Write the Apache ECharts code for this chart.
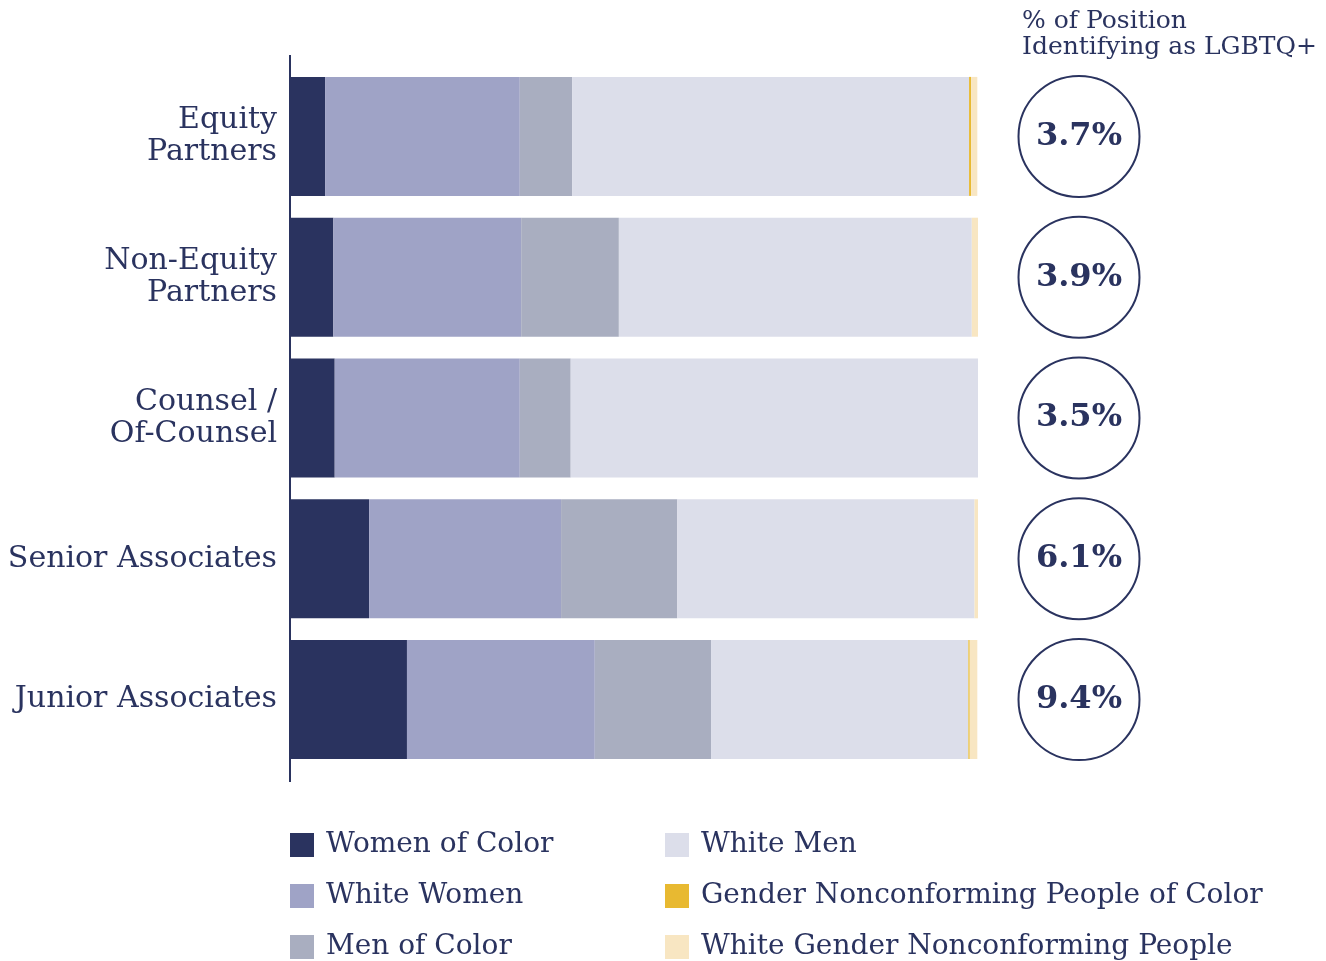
<!DOCTYPE html>
<html>
<head>
<meta charset="utf-8">
<script src="https://cdn.jsdelivr.net/npm/echarts@6/dist/echarts.min.js"></script>
<style>
html, body { margin: 0; padding: 0; background: #ffffff; }
#positionChart { width: 1326px; height: 961px; }
</style>
</head>
<body>
<div id="positionChart"></div>
<script>
// categories top to bottom
const positions = ['Equity\nPartners', 'Non-Equity\nPartners', 'Counsel /\nOf-Counsel', 'Senior Associates', 'Junior Associates'];
// % share of each group, same order as positions
const womenOfColor = [5.1, 6.3, 6.5, 11.5, 17.0];
const whiteWomen = [28.3, 27.3, 26.9, 27.9, 27.3];
const menOfColor = [7.6, 14.2, 7.4, 16.9, 16.9];
const whiteMen = [57.7, 51.3, 59.2, 43.2, 37.4];
const gncPeopleOfColor = [0.3, 0, 0, 0, 0.2];
const whiteGnc = [0.9, 0.9, 0, 0.6, 1.1];
// % identifying as LGBTQ+
const lgbtq = [3.7, 3.9, 3.5, 6.1, 9.4];

const navy = '#2a335f';
const serif = 'DejaVu Serif';

let chart = echarts.init(document.getElementById('positionChart'));

function barSerie(name, data, color) {
    return {
        name: name,
        type: 'bar',
        stack: 'Total',
        barWidth: 119,
        itemStyle: { color: color },
        data: data
    };
}

function legendBlock(names, left) {
    return {
        data: names,
        orient: 'vertical',
        left: left,
        top: 831,
        height: 160,
        padding: 0,
        itemWidth: 24,
        itemHeight: 24,
        itemGap: 27,
        icon: 'rect',
        textStyle: { fontFamily: serif, fontSize: 28, lineHeight: 24, color: navy, padding: [0, 0, 0, 7] }
    };
}

let options = {
    backgroundColor: '#ffffff',
    animation: false,
    textStyle: { fontFamily: serif, color: navy },
    title: {
        text: '% of Position\nIdentifying as LGBTQ+',
        left: 1017,
        top: 3,
        textStyle: { fontFamily: serif, fontWeight: 'normal', fontSize: 25, lineHeight: 26, color: navy }
    },
    legend: [
        legendBlock(['Women of Color', 'White Women', 'Men of Color'], 290),
        legendBlock(['White Men', 'Gender Nonconforming People of Color', 'White Gender Nonconforming People'], 665)
    ],
    grid: [
        { left: 290, top: 66, width: 688, height: 704 },
        { left: 1018, top: 66, width: 122, height: 704 }
    ],
    xAxis: [
        { gridIndex: 0, type: 'value', min: 0, max: 100, show: false },
        { gridIndex: 1, type: 'value', min: 0, max: 1, show: false }
    ],
    yAxis: [
        {
            gridIndex: 0,
            type: 'category',
            inverse: true,
            data: positions,
            axisLine: { show: false },
            axisTick: { show: false },
            axisLabel: {
                margin: 13,
                fontFamily: serif,
                fontSize: 30,
                lineHeight: 32,
                color: navy,
                align: 'right'
            }
        },
        {
            gridIndex: 1,
            type: 'category',
            inverse: true,
            data: positions,
            show: false
        }
    ],
    graphic: [
        {
            type: 'line',
            shape: { x1: 290, y1: 55, x2: 290, y2: 782 },
            style: { stroke: navy, lineWidth: 2 }
        }
    ],
    series: [
        barSerie('Women of Color', womenOfColor, '#2a335f'),
        barSerie('White Women', whiteWomen, '#9fa3c6'),
        barSerie('Men of Color', menOfColor, '#a9aec0'),
        barSerie('White Men', whiteMen, '#dcdeea'),
        barSerie('Gender Nonconforming People of Color', gncPeopleOfColor, '#e8b931'),
        barSerie('White Gender Nonconforming People', whiteGnc, '#f8e6c2'),
        {
            name: 'LGBTQ+',
            type: 'scatter',
            xAxisIndex: 1,
            yAxisIndex: 1,
            symbol: 'circle',
            symbolSize: 121,
            itemStyle: { color: '#ffffff', borderColor: navy, borderWidth: 2, opacity: 1 },
            label: {
                show: true,
                position: 'inside',
                formatter: p => p.value[2] + '%',
                fontFamily: serif,
                fontWeight: 'bold',
                fontSize: 32,
                color: navy
            },
            emphasis: { disabled: true },
            data: lgbtq.map((v, i) => [0.5, i, v])
        }
    ]
};

options.legend.forEach(l => { l.itemGap = 23; });

chart.setOption(options);
</script>
</body>
</html>
